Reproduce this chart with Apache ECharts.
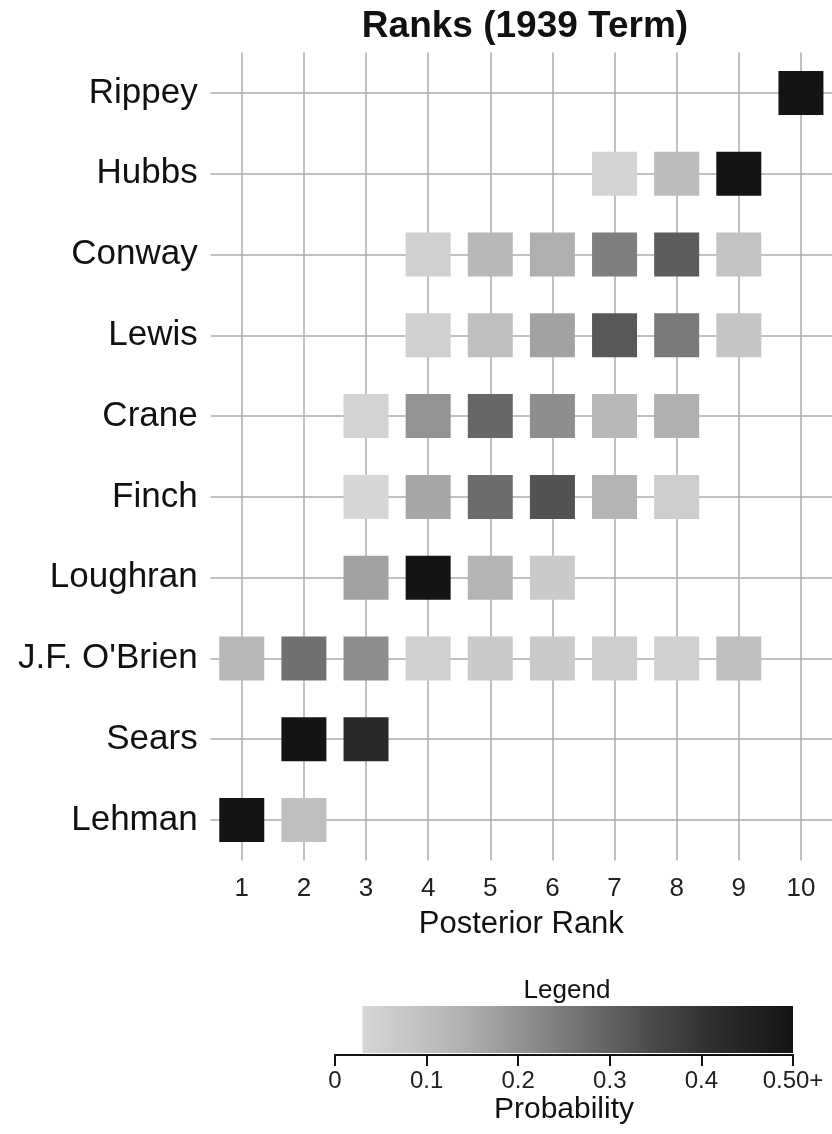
<!DOCTYPE html>
<html>
<head>
<meta charset="utf-8">
<title>Ranks (1939 Term)</title>
<script src="https://cdn.jsdelivr.net/npm/echarts@6/dist/echarts.min.js"></script>
<style>
  html, body { margin: 0; padding: 0; background: #fff; }
  #chart { width: 832px; height: 1134px; }
</style>
</head>
<body>
<div id="chart"></div>
<script>
// candidates, top row first
const candidates = ['Rippey', 'Hubbs', 'Conway', 'Lewis', 'Crane', 'Finch', 'Loughran', "J.F. O'Brien", 'Sears', 'Lehman'];
const rankLabels = ['1', '2', '3', '4', '5', '6', '7', '8', '9', '10'];

// posterior probability of each rank (null = not shown)
const rippey   = [null, null, null, null, null, null, null, null, null, 0.98];
const hubbs    = [null, null, null, null, null, null, 0.04, 0.11, 0.84, null];
const conway   = [null, null, null, 0.05, 0.12, 0.14, 0.24, 0.31, 0.09, null];
const lewis    = [null, null, null, 0.05, 0.10, 0.17, 0.32, 0.25, 0.085, null];
const crane    = [null, null, 0.04, 0.20, 0.29, 0.21, 0.12, 0.14, null, null];
const finch    = [null, null, 0.03, 0.16, 0.28, 0.33, 0.13, 0.06, null, null];
const loughran = [null, null, 0.17, 0.62, 0.13, 0.07, null, null, null, null];
const obrien   = [0.12, 0.27, 0.21, 0.05, 0.07, 0.07, 0.06, 0.05, 0.10, null];
const sears    = [null, 0.50, 0.43, null, null, null, null, null, null, null];
const lehman   = [0.86, 0.10, null, null, null, null, null, null, null, null];
const rows = [rippey, hubbs, conway, lewis, crane, finch, loughran, obrien, sears, lehman];

// legend scale
const legendTicks = [0, 0.1, 0.2, 0.3, 0.4, 0.5];
const legendTickLabels = ['0', '0.1', '0.2', '0.3', '0.4', '0.50+'];
const legendRange = [0.03, 0.5];
const grays = ['#d6d6d6', '#c6c6c6', '#b2b2b2', '#9a9a9a', '#808080', '#666666', '#4c4c4c', '#353535', '#232323', '#141414'];

const font = 'Liberation Sans, Arial, sans-serif';
const gridColor = '#ababab';

const cells = [];
rows.forEach((row, r) => {
    row.forEach((v, c) => {
        if (v !== null) cells.push([c, r, v]);
    });
});

const chart = echarts.init(document.getElementById('chart'));

const option = {
    backgroundColor: '#fff',
    animation: false,
    title: [
        {
            text: 'Ranks (1939 Term)',
            left: 525, top: 8, padding: 0, textAlign: 'center',
            textStyle: { fontFamily: font, fontSize: 37, fontWeight: 'bold', color: '#111' }
        },
        {
            text: 'Legend',
            left: 567, top: 978, padding: 0, textAlign: 'center',
            textStyle: { fontFamily: font, fontSize: 26, fontWeight: 'normal', color: '#111' }
        }
    ],
    grid: [
        { left: 210.7, right: -5.4, top: 52.6, bottom: 273.6 },
        { left: 335, width: 458, top: 1006, height: 49 }
    ],
    xAxis: [
        {
            type: 'category', gridIndex: 0, data: rankLabels,
            axisLine: { show: false },
            axisTick: { show: false },
            splitLine: { show: false },
            axisLabel: { fontFamily: font, fontSize: 26, color: '#222', margin: 15 },
            name: 'Posterior Rank', nameLocation: 'middle', nameGap: 49,
            nameTextStyle: { fontFamily: font, fontSize: 31, color: '#111' }
        },
        {
            type: 'value', gridIndex: 1, min: legendTicks[0], max: legendTicks[legendTicks.length - 1], interval: 0.1,
            axisLine: { show: true, lineStyle: { color: '#111', width: 2 } },
            axisTick: { show: true, length: 11, lineStyle: { color: '#111', width: 2 } },
            splitLine: { show: false },
            axisLabel: {
                fontFamily: font, fontSize: 24, color: '#222', margin: 14,
                formatter: v => legendTickLabels[legendTicks.findIndex(t => Math.abs(t - v) < 1e-9)] ?? ''
            },
            name: 'Probability', nameLocation: 'middle', nameGap: 40,
            nameTextStyle: { fontFamily: font, fontSize: 30, color: '#111' }
        }
    ],
    yAxis: [
        {
            type: 'category', gridIndex: 0, data: candidates, inverse: true,
            axisLine: { show: false },
            axisTick: { show: false },
            splitLine: { show: false },
            axisLabel: { fontFamily: font, fontSize: 35, color: '#111', margin: 13 }
        },
        {
            type: 'value', gridIndex: 1, min: 0, max: 1, show: false
        }
    ],
    visualMap: {
        show: false, type: 'continuous', seriesIndex: 0, dimension: 2,
        min: legendRange[0], max: legendRange[1],
        inRange: { color: grays }
    },
    series: [
        {
            type: 'scatter', xAxisIndex: 0, yAxisIndex: 0,
            symbol: 'rect', symbolSize: [45, 44],
            itemStyle: { opacity: 1 },
            data: cells, z: 10
        },
        {
            // grid lines through each category centre, kept behind the squares
            type: 'scatter', xAxisIndex: 0, yAxisIndex: 0,
            symbolSize: 0, silent: true, z: 1,
            data: cells.map(d => [d[0], d[1]]),
            markLine: {
                silent: true, symbol: 'none', animation: false, z: 1,
                label: { show: false },
                lineStyle: { color: gridColor, width: 1.5, type: 'solid' },
                emphasis: { disabled: true },
                data: rankLabels.map(r => ({ xAxis: r }))
                    .concat(candidates.map(c => ({ yAxis: c })))
            }
        },
        {
            type: 'custom', xAxisIndex: 1, yAxisIndex: 1,
            data: [[legendRange[0], legendRange[1]]],
            renderItem: function (params, api) {
                const p0 = api.coord([api.value(0), 1]);
                const p1 = api.coord([api.value(1), 0]);
                const stops = grays.map((c, i) => ({ offset: i / (grays.length - 1), color: c }));
                return {
                    type: 'rect',
                    shape: { x: p0[0], y: p0[1], width: p1[0] - p0[0], height: p1[1] - p0[1] - 2 },
                    style: { fill: new echarts.graphic.LinearGradient(0, 0, 1, 0, stops) }
                };
            }
        }
    ]
};

chart.setOption(option);
</script>
</body>
</html>
